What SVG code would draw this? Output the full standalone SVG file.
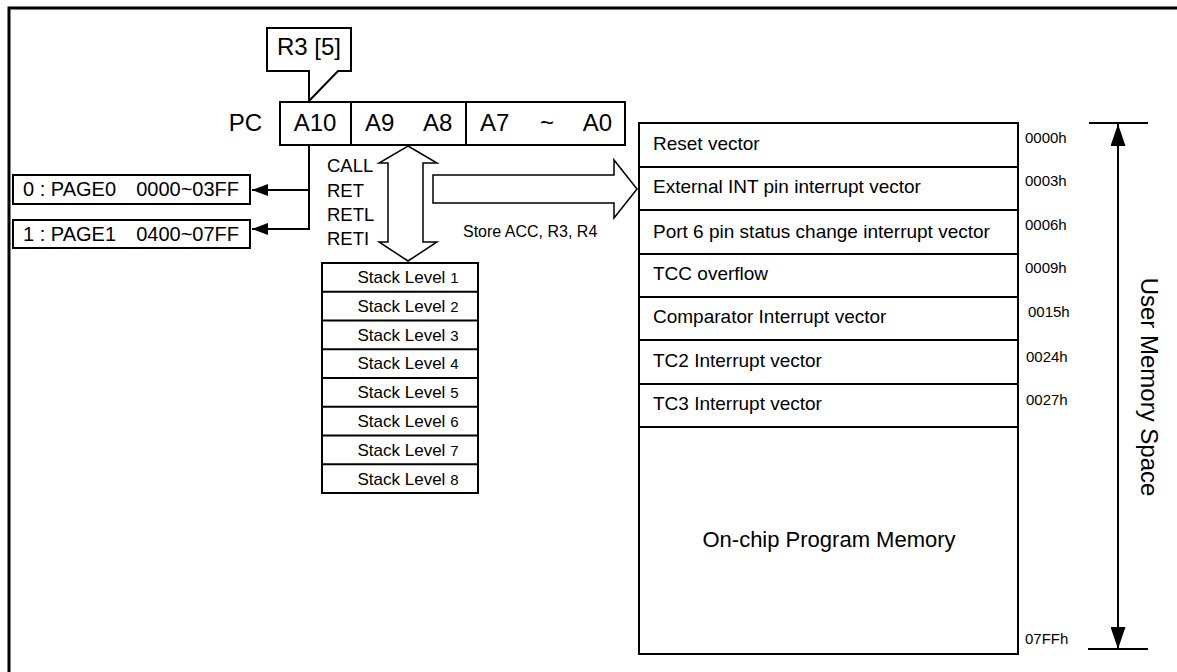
<svg xmlns="http://www.w3.org/2000/svg" width="1177" height="672" viewBox="0 0 1177 672">
  <style>
    .box { fill: #fff; stroke: #000; stroke-width: 2; }
    .ln { fill: none; stroke: #000; stroke-width: 2; }
    .hollow { fill: #fff; stroke: #000; stroke-width: 1.5; stroke-linejoin: miter; }
    text { font-family: "Liberation Sans", Arial, sans-serif; fill: #000; }
    .big { font-size: 24px; }
    .page { font-size: 20px; }
    .op { font-size: 18.5px; }
    .note { font-size: 16px; }
    .stk { font-size: 17px; text-anchor: middle; }
    .stk tspan { font-size: 15px; }
    .vec { font-size: 19px; }
    .addr { font-size: 15px; }
  </style>
  <defs>
    <marker id="headSmall" markerUnits="userSpaceOnUse" markerWidth="16" markerHeight="12" refX="16" refY="6" orient="auto">
      <path d="M0,0 L16,6 L0,12 Z" fill="#000"/>
    </marker>
    <marker id="headLong" markerUnits="userSpaceOnUse" markerWidth="22" markerHeight="15" refX="22" refY="7.5" orient="auto-start-reverse">
      <path d="M0,0 L22,7.5 L0,15 Z" fill="#000"/>
    </marker>
  </defs>

  <!-- outer frame -->
  <rect x="9" y="8" width="1200" height="700" fill="none" stroke="#000" stroke-width="3"/>

  <!-- R3 bit 5 callout -->
  <g id="r3-callout">
    <path class="box" d="M267,28 H351 V71 H338 L309,101 V71 H267 Z"/>
    <text class="big" x="309" y="55" text-anchor="middle">R3 [5]</text>
  </g>

  <!-- program counter -->
  <g id="pc">
    <text class="big" x="262" y="131" text-anchor="end">PC</text>
    <rect class="box" x="280" y="102" width="345" height="43"/>
    <line class="ln" x1="351" y1="102" x2="351" y2="145"/>
    <line class="ln" x1="466" y1="102" x2="466" y2="145"/>
    <text class="big" x="315" y="131" text-anchor="middle">A10</text>
    <text class="big" x="365" y="131">A9</text>
    <text class="big" x="423" y="131">A8</text>
    <text class="big" x="480" y="131">A7</text>
    <text class="big" x="547" y="131" text-anchor="middle">~</text>
    <text class="big" x="612" y="131" text-anchor="end">A0</text>
  </g>

  <!-- page select -->
  <g id="page0">
    <rect class="box" x="13" y="175" width="237" height="29"/>
    <text class="page" x="23" y="196">0 : PAGE0</text>
    <text class="page" x="239" y="196" text-anchor="end">0000~03FF</text>
  </g>
  <g id="page1">
    <rect class="box" x="13" y="220" width="237" height="28"/>
    <text class="page" x="23" y="241">1 : PAGE1</text>
    <text class="page" x="239" y="241" text-anchor="end">0400~07FF</text>
  </g>

  <!-- stack -->
  <g id="stack">
    <rect class="box" x="322" y="263" width="156" height="230"/>
    <line class="ln" x1="322" y1="291.75" x2="478" y2="291.75"/>
    <line class="ln" x1="322" y1="320.5" x2="478" y2="320.5"/>
    <line class="ln" x1="322" y1="349.25" x2="478" y2="349.25"/>
    <line class="ln" x1="322" y1="378" x2="478" y2="378"/>
    <line class="ln" x1="322" y1="406.75" x2="478" y2="406.75"/>
    <line class="ln" x1="322" y1="435.5" x2="478" y2="435.5"/>
    <line class="ln" x1="322" y1="464.25" x2="478" y2="464.25"/>
    <text class="stk" x="408" y="283">Stack Level <tspan>1</tspan></text>
    <text class="stk" x="408" y="312">Stack Level <tspan>2</tspan></text>
    <text class="stk" x="408" y="341">Stack Level <tspan>3</tspan></text>
    <text class="stk" x="408" y="369">Stack Level <tspan>4</tspan></text>
    <text class="stk" x="408" y="398">Stack Level <tspan>5</tspan></text>
    <text class="stk" x="408" y="427">Stack Level <tspan>6</tspan></text>
    <text class="stk" x="408" y="456">Stack Level <tspan>7</tspan></text>
    <text class="stk" x="408" y="485">Stack Level <tspan>8</tspan></text>
  </g>

  <!-- program memory map -->
  <g id="memory">
    <rect class="box" x="639" y="123" width="379" height="531"/>
    <line class="ln" x1="639" y1="167" x2="1018" y2="167"/>
    <line class="ln" x1="639" y1="210" x2="1018" y2="210"/>
    <line class="ln" x1="639" y1="254" x2="1018" y2="254"/>
    <line class="ln" x1="639" y1="297" x2="1018" y2="297"/>
    <line class="ln" x1="639" y1="340" x2="1018" y2="340"/>
    <line class="ln" x1="639" y1="384" x2="1018" y2="384"/>
    <line class="ln" x1="639" y1="427" x2="1018" y2="427"/>
    <text class="vec" x="653" y="150">Reset vector</text>
    <text class="vec" x="653" y="193">External INT pin interrupt vector</text>
    <text class="vec" x="653" y="238">Port 6 pin status change interrupt vector</text>
    <text class="vec" x="653" y="280">TCC overflow</text>
    <text class="vec" x="653" y="323">Comparator Interrupt vector</text>
    <text class="vec" x="653" y="367">TC2 Interrupt vector</text>
    <text class="vec" x="653" y="410">TC3 Interrupt vector</text>
    <text x="829" y="547" text-anchor="middle" font-size="22">On-chip Program Memory</text>
  </g>

  <!-- vector addresses -->
  <g id="addresses">
    <text class="addr" x="1025" y="143">0000h</text>
    <text class="addr" x="1025" y="186">0003h</text>
    <text class="addr" x="1025" y="230">0006h</text>
    <text class="addr" x="1025" y="273">0009h</text>
    <text class="addr" x="1028" y="317">0015h</text>
    <text class="addr" x="1026" y="362">0024h</text>
    <text class="addr" x="1026" y="405">0027h</text>
    <text class="addr" x="1025" y="644">07FFh</text>
  </g>

  <!-- user memory span -->
  <g id="user-space">
    <line class="ln" x1="1089" y1="123" x2="1148" y2="123"/>
    <line class="ln" x1="1088" y1="649" x2="1148" y2="649"/>
    <text class="big" transform="translate(1141,387) rotate(90)" text-anchor="middle">User Memory Space</text>
  </g>

  <!-- instruction labels -->
  <g id="ops">
    <text class="op" x="327" y="172">CALL</text>
    <text class="op" x="327" y="197">RET</text>
    <text class="op" x="327" y="221">RETL</text>
    <text class="op" x="327" y="245">RETI</text>
  </g>

  <g id="connectors">
    <!-- A10 selects the page -->
    <polyline class="ln" points="309,145 309,229 252,229" marker-end="url(#headSmall)"/>
    <line class="ln" x1="309" y1="190" x2="252" y2="190" marker-end="url(#headSmall)"/>
    <!-- PC to/from stack -->
    <polygon class="hollow" points="408,146 437,163 423,163 423,242 437,242 408,261 379,242 388,242 388,163 379,163"/>
    <!-- interrupt entry -->
    <polygon class="hollow" points="433,175 614,175 614,160 637,189 614,218 614,203 433,203"/>
    <text class="note" x="463" y="237">Store ACC, R3, R4</text>
    <!-- memory span -->
    <line class="ln" x1="1118" y1="124" x2="1118" y2="649" marker-start="url(#headLong)" marker-end="url(#headLong)"/>
  </g>
</svg>
